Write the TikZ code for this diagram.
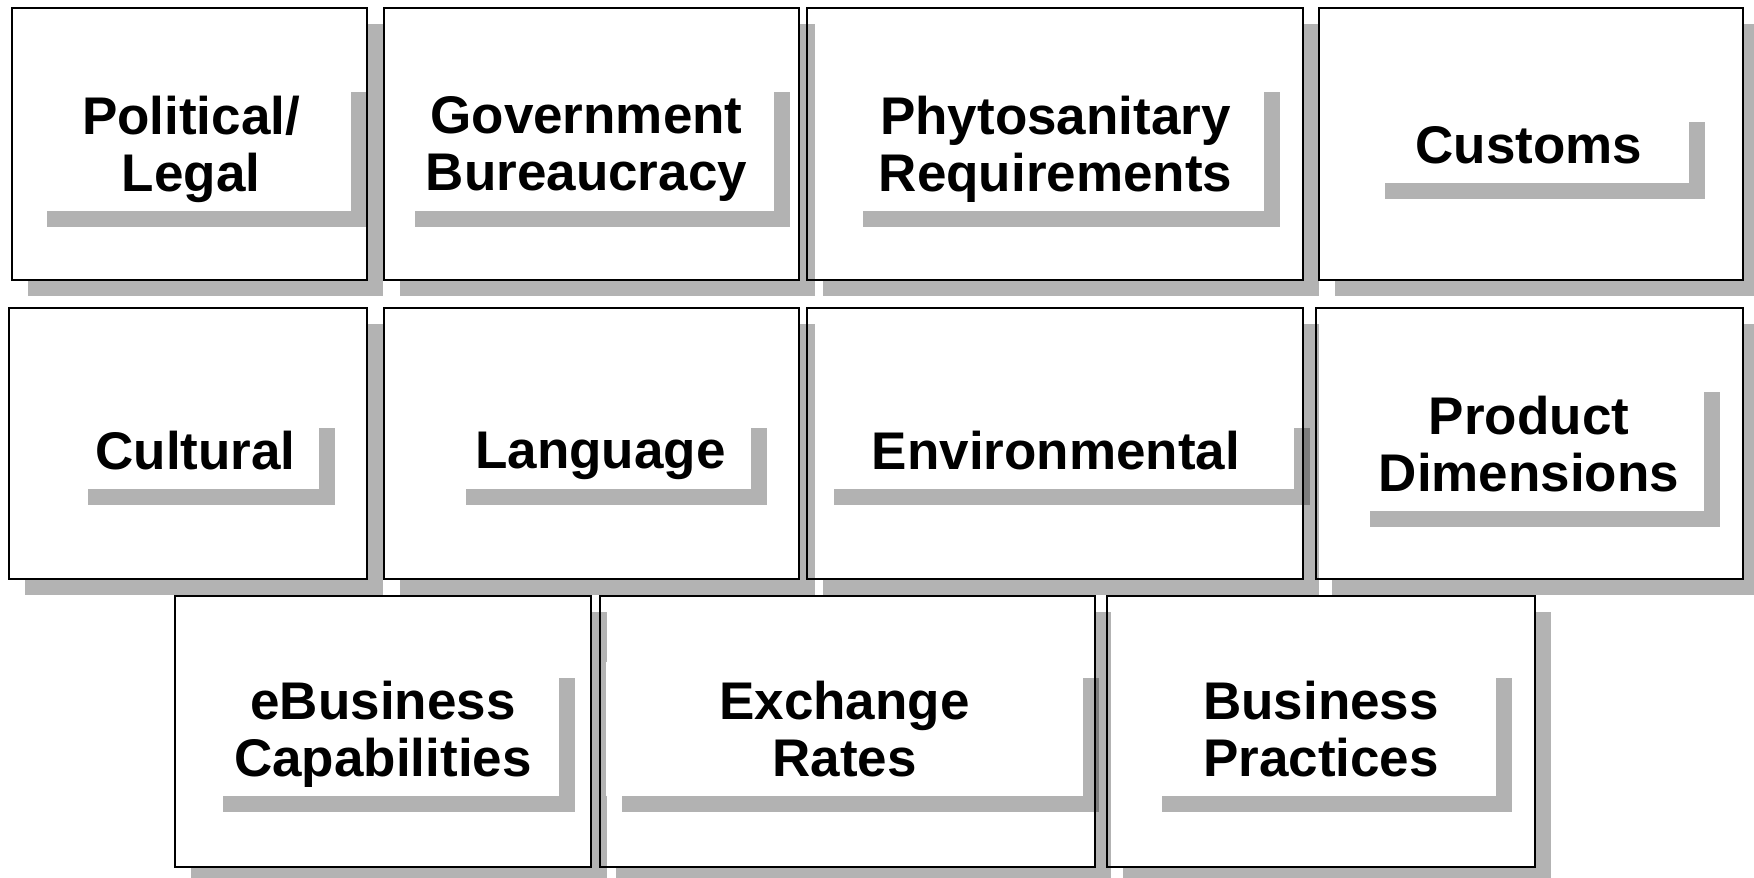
\documentclass[tikz,border=0pt]{standalone}
\usepackage{fontspec}
\setmainfont{Liberation Sans}
\usetikzlibrary{shadows}
\definecolor{shadowgray}{RGB}{179,179,179}

\begin{document}
\begin{tikzpicture}[x=1pt,y=-1pt,
  box/.style={rectangle,fill=white,inner sep=0pt,outer sep=0pt,
    drop shadow={shadow xshift=16pt,shadow yshift=-16pt,fill=shadowgray,opacity=1}},
  frame/.style={line width=2.5pt},
  tag/.style={rectangle,fill=white,inner sep=0pt,align=center,text depth=0pt,
    font=\bfseries\fontsize{53}{57}\selectfont,
    drop shadow={shadow xshift=16pt,shadow yshift=-16pt,fill=black,opacity=0.3}}]

\useasboundingbox (0,0) rectangle (1754,878);

% boxes, right to left so each shadow lies over the next box
\node[box,minimum width=428pt,minimum height=271pt] (b11) at (1321,731.5) {};
\node[box,minimum width=495pt,minimum height=271pt] (b10) at (847.5,731.5) {};
\node[box,minimum width=416pt,minimum height=271pt] (b9) at (383,731.5) {};
\node[box,minimum width=427pt,minimum height=271pt] (b8) at (1529.5,443.5) {};
\node[box,minimum width=496pt,minimum height=271pt] (b7) at (1055,443.5) {};
\node[box,minimum width=415pt,minimum height=271pt] (b6) at (591.5,443.5) {};
\node[box,minimum width=358pt,minimum height=271pt] (b5) at (188,443.5) {};
\node[box,minimum width=424pt,minimum height=272pt] (b4) at (1531,144) {};
\node[box,minimum width=496pt,minimum height=272pt] (b3) at (1055,144) {};
\node[box,minimum width=415pt,minimum height=272pt] (b2) at (591.5,144) {};
\node[box,minimum width=355pt,minimum height=272pt] (b1) at (189.5,144) {};

\foreach \n in {b1,b2,b3,b4,b5,b6,b7,b8,b9,b10,b11}
  \draw[frame] (\n.north west) rectangle (\n.south east);

% labels
\node[tag,minimum width=320pt,minimum height=135pt] (political) at (191,143.5) {Political/\\Legal};
\node[tag,minimum width=375pt,minimum height=135pt] (government) at (586.5,143.5) {Government\\Bureaucracy};
\node[tag,minimum width=417pt,minimum height=135pt] (phyto) at (1055.5,143.5) {Phytosanitary\\Requirements};
\node[tag,minimum width=320pt,minimum height=77pt] (customs) at (1529,144.5) {Customs};

\node[tag,minimum width=247pt,minimum height=77pt] (cultural) at (195.5,450.5) {Cultural};
\node[tag,minimum width=301pt,minimum height=77pt] (language) at (600.5,450.5) {Language};
\node[tag,minimum width=476pt,minimum height=77pt] (environmental) at (1056,450.5) {Environmental};
\node[tag,minimum width=350pt,minimum height=135pt] (product) at (1529,443.5) {Product\\Dimensions};

\node[tag,minimum width=352pt,minimum height=134pt] (ebusiness) at (383,729) {eBusiness\\Capabilities};
\node[tag,minimum width=477pt,minimum height=134pt] (exchange) at (844.5,729) {Exchange\\Rates};
\node[tag,minimum width=350pt,minimum height=134pt] (business) at (1321,729) {Business\\Practices};

\end{tikzpicture}
\end{document}
